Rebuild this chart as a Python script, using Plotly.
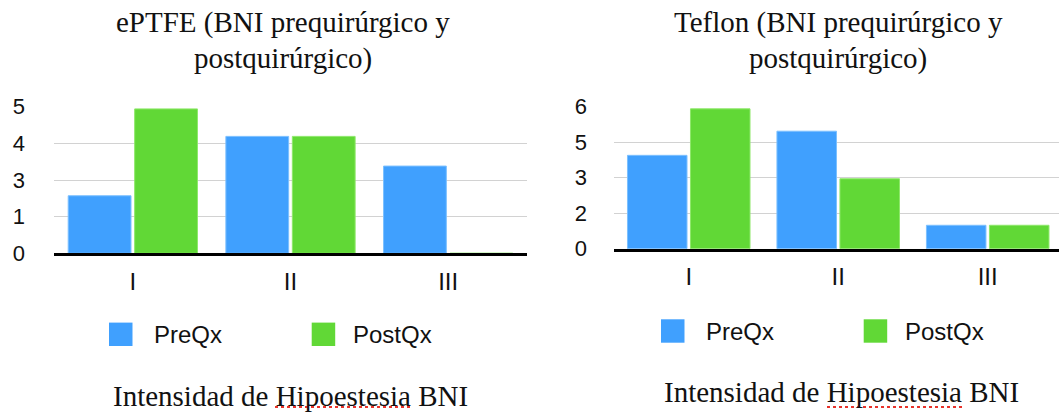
import plotly.graph_objects as go
from plotly.subplots import make_subplots

# ---- data (values in axis-grid units; tick labels as printed) ----
categories = ["I", "II", "III"]
eptfe_pre = [1.57, 3.19, 2.38]
eptfe_post = [3.94, 3.19, 0.0]
teflon_pre = [2.63, 3.31, 0.66]
teflon_post = [3.94, 1.97, 0.66]
eptfe_tick_vals = [0, 1, 2, 3, 4]
eptfe_tick_text = ["0", "1", "3", "4", "5"]
teflon_tick_vals = [0, 1, 2, 3, 4]
teflon_tick_text = ["0", "2", "3", "5", "6"]
series_names = ["PreQx", "PostQx"]
title_left = ["ePTFE (BNI prequirúrgico y", "postquirúrgico)"]
title_right = ["Teflon (BNI prequirúrgico y", "postquirúrgico)"]
xtitle = "Intensidad de Hipoestesia BNI"

W, H = 1059, 413
BLUE = "#40A0FE"
GREEN = "#61D836"
SANS = "Liberation Sans, Arial, sans-serif"
SERIF = "Liberation Serif, Times New Roman, serif"


def px(x):
    return x / W


def py(y):
    return 1 - y / H


fig = make_subplots(rows=1, cols=2)

for col, pre, post in [(1, eptfe_pre, eptfe_post), (2, teflon_pre, teflon_post)]:
    fig.add_trace(go.Bar(x=categories, y=pre, name=series_names[0], marker_color=BLUE,
                         marker_line=dict(color="#7cc0ff", width=1), showlegend=False), row=1, col=col)
    fig.add_trace(go.Bar(x=categories, y=post, name=series_names[1], marker_color=GREEN,
                         marker_line=dict(color="#8ee86a", width=1), showlegend=False), row=1, col=col)

axis_common = dict(showline=True, linecolor="black", linewidth=2.5, ticks="",
                   tickfont=dict(family=SANS, size=24, color="#111"), ticklabelstandoff=5,
                   showgrid=False, zeroline=False, fixedrange=True, automargin=False)
fig.update_xaxes(**axis_common)
fig.update_xaxes(domain=[px(54), px(527)], range=[-0.5, 2.5], row=1, col=1)
fig.update_xaxes(domain=[px(614), 1.0], range=[-0.5, 2.477], row=1, col=2)

yaxis_common = dict(showline=False, showgrid=True, gridcolor="#d2d2d2", gridwidth=1, zeroline=False,
                    ticks="", tickfont=dict(family=SANS, size=22, color="#111"), range=[0, 4],
                    automargin=False, fixedrange=True)
fig.update_yaxes(**yaxis_common)
fig.update_yaxes(domain=[py(253.3), py(106.7)], tickvals=eptfe_tick_vals, ticktext=eptfe_tick_text,
                 ticklabelstandoff=28, row=1, col=1)
fig.update_yaxes(domain=[py(248.7), py(106.7)], tickvals=teflon_tick_vals, ticktext=teflon_tick_text,
                 ticklabelstandoff=26, row=1, col=2)

annotations = []
shapes = []

# titles
for cx, lines in [(283, title_left), (838, title_right)]:
    for i, (yy, txt) in enumerate(zip([22, 59], lines)):
        annotations.append(dict(x=px(cx), y=py(yy), xref="paper", yref="paper", text=txt,
                                showarrow=False, xanchor="center", yanchor="middle",
                                font=dict(family=SERIF, size=29, color="#111")))

# bottom axis titles
for cx, cy in [(290, 396), (841.5, 392)]:
    annotations.append(dict(x=px(cx), y=py(cy), xref="paper", yref="paper", text=xtitle,
                            showarrow=False, xanchor="center", yanchor="middle",
                            font=dict(family=SERIF, size=29, color="#111")))

# spell-check underline
for x0, x1, yy in [(275, 410, 407), (827, 962, 407)]:
    shapes.append(dict(type="line", xref="paper", yref="paper", x0=px(x0), x1=px(x1),
                       y0=py(yy), y1=py(yy), line=dict(color="#e8322a", width=2, dash="dot")))

# legends (drawn manually, one per panel)
legend_items = [
    (109, 334.3, 152, BLUE, series_names[0]), (311.7, 334.3, 351, GREEN, series_names[1]),
    (661, 331, 704.3, BLUE, series_names[0]), (863.7, 331, 902.7, GREEN, series_names[1]),
]
for sx, cy, tx, color, name in legend_items:
    shapes.append(dict(type="rect", xref="paper", yref="paper", x0=px(sx), x1=px(sx + 23.5),
                       y0=py(cy + 11.7), y1=py(cy - 11.7), fillcolor=color, line=dict(width=0)))
    annotations.append(dict(x=px(tx), y=py(cy), xref="paper", yref="paper", text=name,
                            showarrow=False, xanchor="left", yanchor="middle",
                            font=dict(family=SANS, size=24, color="#111")))

fig.update_layout(width=W, height=H, margin=dict(l=0, r=0, t=0, b=0, autoexpand=False),
                  paper_bgcolor="white", plot_bgcolor="white",
                  barmode="group", bargap=0.157, bargroupgap=0.055,
                  annotations=annotations, shapes=shapes, showlegend=False)

fig.write_html("out.html", config={"displayModeBar": False},
               post_script="document.body.style.margin='0';document.body.style.overflow='hidden';")
